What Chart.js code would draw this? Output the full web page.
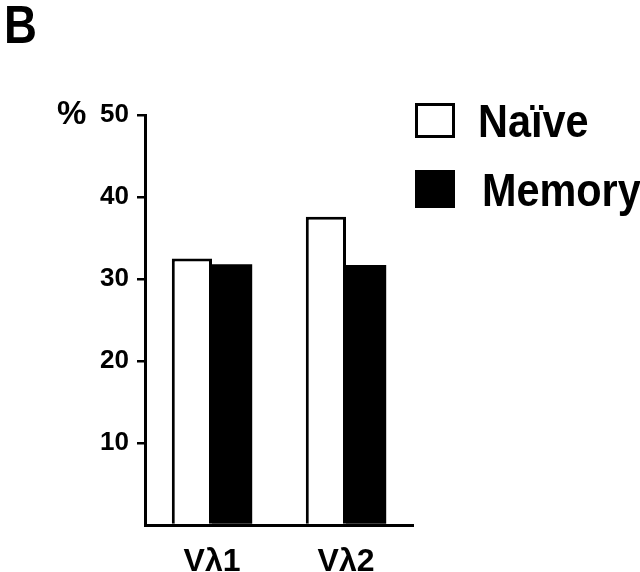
<!DOCTYPE html>
<html>
<head>
<meta charset="utf-8">
<script src="https://cdn.jsdelivr.net/npm/chart.js@4"></script>
<style>
html,body{margin:0;padding:0;background:#fff;}
#wrap{width:640px;height:572px;position:relative;}
</style>
</head>
<body>
<div id="wrap"><canvas id="c" width="640" height="572"></canvas></div>
<script>
const categories = ['Vλ1', 'Vλ2'];
const naive = [32.5, 37.6];
const memory = [31.8, 31.7];
const seriesNames = ['Naïve', 'Memory'];
const yTicks = [10, 20, 30, 40, 50];
const panelLabel = 'B';
const yUnit = '%';

const FONT = '"Liberation Sans", Arial, Helvetica, sans-serif';

const decor = {
  id: 'decor',
  afterDraw(chart) {
    const ctx = chart.ctx;
    ctx.save();
    ctx.fillStyle = '#000';
    ctx.textBaseline = 'alphabetic';
    ctx.textAlign = 'left';
    // panel label
    ctx.save();
    ctx.translate(4, 43);
    ctx.scale(0.86, 1);
    ctx.font = 'bold 53px ' + FONT;
    ctx.fillText(panelLabel, 0, 0);
    ctx.restore();
    // unit
    ctx.save();
    ctx.translate(57, 124);
    ctx.font = 'bold 33px ' + FONT;
    ctx.fillText(yUnit, 0, 0);
    ctx.restore();
    // legend
    const ds = chart.data.datasets;
    const rows = [{box: [416.5, 104.5, 37, 32], tx: 478, ty: 137}, {box: [415, 170, 40, 38], tx: 482, ty: 206}];
    ds.forEach((d, i) => {
      const r = rows[i];
      if (d.backgroundColor === '#ffffff') {
        ctx.fillStyle = '#fff';
        ctx.fillRect(...r.box);
        ctx.lineWidth = 3;
        ctx.strokeStyle = '#000';
        ctx.strokeRect(...r.box);
      } else {
        ctx.fillStyle = '#000';
        ctx.fillRect(...r.box);
      }
      ctx.save();
      ctx.fillStyle = '#000';
      ctx.translate(r.tx, r.ty);
      ctx.scale(0.9, 1);
      ctx.font = 'bold 46px ' + FONT;
      ctx.fillText(d.label, 0, 0);
      ctx.restore();
    });
    ctx.restore();
  }
};

new Chart(document.getElementById('c'), {
  type: 'bar',
  data: {
    labels: categories,
    datasets: [
      {label: seriesNames[0], data: naive, backgroundColor: '#ffffff', borderColor: '#000000', borderWidth: 3, borderSkipped: 'bottom'},
      {label: seriesNames[1], data: memory, backgroundColor: '#000000', borderColor: '#000000', borderWidth: 0}
    ]
  },
  options: {
    responsive: false,
    animation: false,
    devicePixelRatio: 1,
    layout: {padding: {left: 0, right: 227, top: 115, bottom: 0}},
    plugins: {legend: {display: false}, tooltip: {enabled: false}},
    datasets: {bar: {barPercentage: 1.0, categoryPercentage: 0.6}},
    scales: {
      x: {
        grid: {display: false},
        border: {display: true, color: '#000', width: 3},
        ticks: {color: '#000', font: {family: FONT, size: 32, weight: 'bold'}, padding: 10},
        afterFit(s) { s.height = 47; }
      },
      y: {
        min: 0, max: 50,
        afterBuildTicks(s) { s.ticks = [0].concat(yTicks).map(v => ({value: v})); },
        ticks: {
          color: '#000',
          font: {family: FONT, size: 26, weight: 'bold'},
          padding: 8,
          callback: v => (v === 0 ? '' : String(v))
        },
        grid: {
          drawOnChartArea: false, drawTicks: true, tickLength: 8, lineWidth: 2.5,
          color: c => (c.tick && c.tick.value === 0 ? 'rgba(0,0,0,0)' : '#000')
        },
        border: {display: true, color: '#000', width: 3},
        afterFit(s) { s.width = 145; }
      }
    }
  },
  plugins: [decor]
});
</script>
</body>
</html>
